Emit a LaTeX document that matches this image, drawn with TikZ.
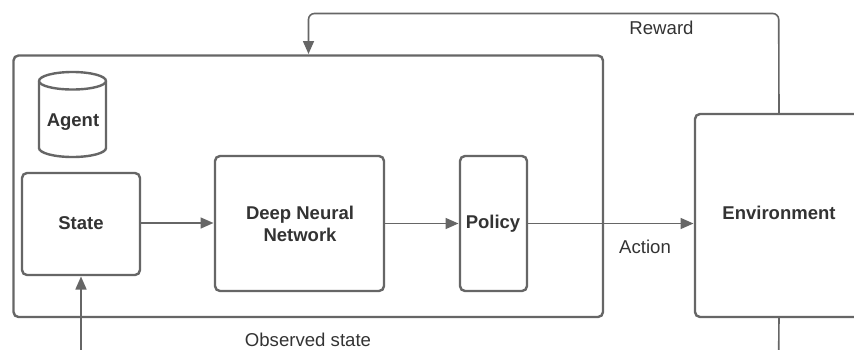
\documentclass[tikz,border=0pt]{standalone}
\usepackage{fontspec}
\setmainfont{Liberation Sans}
\usetikzlibrary{arrows.meta}
\definecolor{linegrey}{HTML}{666666}
\definecolor{textgrey}{HTML}{333333}
\tikzset{
  box/.style={draw=linegrey,line width=2.4pt,rounded corners=5pt,anchor=north west,inner sep=0pt,outer sep=0pt,fill=white},
  boxlabel/.style={text=textgrey,font=\fontsize{18.5}{22}\selectfont\bfseries,align=center,inner sep=0pt},
  edgelabel/.style={text=textgrey,font=\fontsize{18.6}{22}\selectfont,inner sep=0pt},
  conn/.style={draw=linegrey,line width=1.6pt,rounded corners=6pt,-{Triangle[length=13pt,width=11pt]},shorten >=1.5pt},
  plain/.style={draw=linegrey,line width=1.6pt,rounded corners=6pt},
}
\begin{document}
\begin{tikzpicture}[x=1pt,y=-1pt]
\useasboundingbox (0,0) rectangle (854,349);
\clip (0,0) rectangle (854,349);
\node[box,minimum width=589.5pt,minimum height=261.5pt] (agentbox) at (13.5,55.5) {};
\node[box,minimum width=118pt,minimum height=102pt] (state) at (22,173) {};
\node[box,minimum width=169pt,minimum height=135pt] (dnn) at (215,156) {};
\node[box,minimum width=67pt,minimum height=135pt] (policy) at (460,156) {};
\node[box,minimum width=168pt,minimum height=203pt] (env) at (695,114) {};
% cylinder
\draw[draw=linegrey,line width=2.4pt,fill=white] (39,81) arc[x radius=33.5,y radius=9,start angle=-180,end angle=0] -- (106,148) arc[x radius=33.5,y radius=9,start angle=0,end angle=180] -- cycle;
\draw[draw=linegrey,line width=2.4pt] (39,81) arc[x radius=33.5,y radius=8.5,start angle=180,end angle=0];
\node[boxlabel] (agentlabel) at (73,122.5) {Agent};
\node[boxlabel] (statelabel) at (81,223) {State};
\node[boxlabel] (dnnlabel) at (300,223.5) {Deep Neural\\Network};
\node[boxlabel] (policylabel) at (493,223.5) {Policy};
\node[boxlabel] (envlabel) at (779,212.5) {Environment};
\node[edgelabel] (reward) at (661.5,28) {Reward};
\node[edgelabel] (action) at (645,247) {Action};
\node[edgelabel] (observed) at (308,340) {Observed state};
\coordinate (obsin) at (81,351);
\coordinate (rewardtop) at (778.7,13.5);
\draw[conn] (state.east |- 0,223) -- (dnn.west |- 0,223);
\draw[conn] (dnn.east |- 0,223.5) -- (policy.west |- 0,223.5);
\draw[conn] (policy.east |- 0,223.5) -- (env.west |- 0,223.5);
\draw[conn] (env.north) -- (rewardtop) -- (rewardtop -| 308.5,0) -- (agentbox.north -| 308.5,0);
\draw[conn] (obsin) -- (state.south);
\draw[plain] (env.south) -- (778.7,351);
\end{tikzpicture}
\end{document}
